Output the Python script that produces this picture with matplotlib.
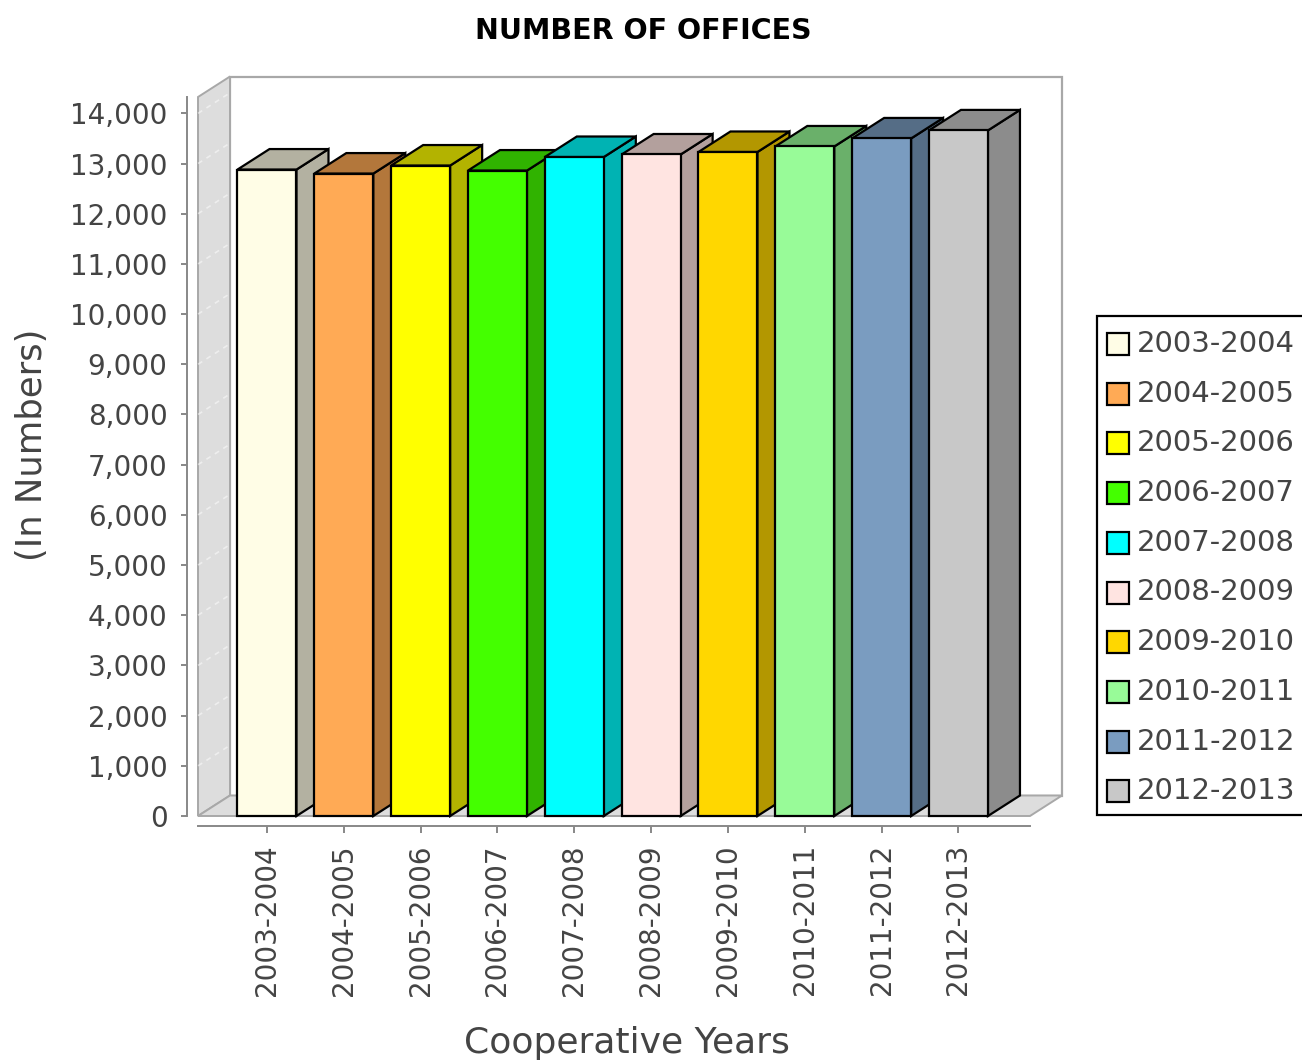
import matplotlib
matplotlib.use('Agg')
import matplotlib.pyplot as plt
from matplotlib.patches import Rectangle, Polygon

# data
years = ['2003-2004', '2004-2005', '2005-2006', '2006-2007', '2007-2008',
         '2008-2009', '2009-2010', '2010-2011', '2011-2012', '2012-2013']
offices = [12880, 12800, 12960, 12860, 13130, 13180, 13230, 13340, 13500, 13660]
colors = ['#FFFDE6', '#FFAA55', '#FFFF00', '#44FF00', '#00FFFF',
          '#FFE4E1', '#FFD700', '#98FB98', '#7A9CC0', '#C8C8C8']
yticks = list(range(0, 14001, 1000))

W, H = 1302, 1064
DPI = 100
fig = plt.figure(figsize=(W / DPI, H / DPI), dpi=DPI)

# front plot area in pixels
left_px, right_px, zero_px, top_px = 198, 1030, 816, 97
ax = fig.add_axes([left_px / W, (H - zero_px) / H,
                   (right_px - left_px) / W, (zero_px - top_px) / H])

px_per_cat = 76.83
px_per_val = 50.19 / 1000
x0 = -0.898
x1 = x0 + (right_px - left_px) / px_per_cat
ymax = (zero_px - top_px) / px_per_val
ax.set_xlim(x0, x1)
ax.set_ylim(0, ymax)

# 3d offsets in data units
ddx = 32 / px_per_cat
ddy = 20.5 / px_per_val
bar_w = 59 / px_per_cat


def darker(c, f=0.7):
    r, g, b = matplotlib.colors.to_rgb(c)
    return (r * f, g * f, b * f)


wall_edge = '#A8A8A8'
# back wall
ax.add_patch(Rectangle((x0 + ddx, ddy), x1 - x0, ymax, facecolor='white',
                       edgecolor=wall_edge, lw=1.6, clip_on=False, zorder=1))
# left wall
ax.add_patch(Polygon([(x0, 0), (x0, ymax), (x0 + ddx, ymax + ddy), (x0 + ddx, ddy)],
                     closed=True, facecolor='#DDDDDD', edgecolor=wall_edge, lw=1.4,
                     clip_on=False, zorder=1))
# floor
ax.add_patch(Polygon([(x0, 0), (x1, 0), (x1 + ddx, ddy), (x0 + ddx, ddy)],
                     closed=True, facecolor='#DDDDDD', edgecolor=wall_edge, lw=1.4,
                     clip_on=False, zorder=1))
# faint grid marks on the left wall
for t in yticks[1:]:
    ax.plot([x0, x0 + ddx], [t, t + ddy], color='white', lw=1.2, ls=(0, (3, 3)),
            alpha=0.5, clip_on=False, zorder=1.5)

# bars
for i, (v, c) in enumerate(zip(offices, colors)):
    l, r = i - bar_w / 2, i + bar_w / 2
    dc = darker(c)
    ax.add_patch(Polygon([(r, 0), (r + ddx, ddy), (r + ddx, v + ddy), (r, v)],
                         closed=True, facecolor=dc, edgecolor='black', lw=1.6,
                         clip_on=False, zorder=2))
    ax.add_patch(Polygon([(l, v), (l + ddx, v + ddy), (r + ddx, v + ddy), (r, v)],
                         closed=True, facecolor=dc, edgecolor='black', lw=1.6,
                         clip_on=False, zorder=2))
    ax.add_patch(Rectangle((l, 0), bar_w, v, facecolor=c, edgecolor='black',
                           lw=1.6, clip_on=False, zorder=2))

# axes styling
for s in ['top', 'right']:
    ax.spines[s].set_visible(False)
ax.spines['left'].set_position(('outward', 11 * 0.72))
ax.spines['bottom'].set_position(('outward', 10 * 0.72))
for s in ['left', 'bottom']:
    ax.spines[s].set_color('#888888')
    ax.spines[s].set_linewidth(1.4)
ax.set_facecolor('none')

ax.set_yticks(yticks)
ax.set_yticklabels(['{:,}'.format(t) for t in yticks])
ax.set_xticks(range(len(years)))
ax.set_xticklabels(years, rotation=90)
ax.tick_params(axis='y', length=4, width=1.4, color='#888888', pad=10,
               labelsize=20, labelcolor='#444444')
ax.tick_params(axis='x', length=5, width=1.4, color='#888888', pad=8,
               labelsize=20, labelcolor='#444444')

fig.text(643 / W, 1 - 31 / H, 'NUMBER OF OFFICES', ha='center', va='center',
         fontsize=20.5, fontweight='bold', color='black')
fig.text(627 / W, 1 - 1043 / H, 'Cooperative Years', ha='center', va='center',
         fontsize=26, color='#444444')
fig.text(32 / W, 1 - 445 / H, '(In Numbers)', ha='center', va='center',
         rotation=90, fontsize=25.5, color='#444444')

# legend
fig.patches.append(Rectangle((1097 / W, 1 - 815 / H), 300 / W, (815 - 316) / H,
                             transform=fig.transFigure, facecolor='white',
                             edgecolor='black', lw=1.6))
for k, (lab, c) in enumerate(zip(years, colors)):
    yc = 344 + k * 49.7
    fig.patches.append(Rectangle((1107 / W, 1 - (yc + 11) / H), 22 / W, 22 / H,
                                 transform=fig.transFigure, facecolor=c,
                                 edgecolor='black', lw=1.6))
    fig.text(1137 / W, 1 - yc / H, lab, ha='left', va='center',
             fontsize=21, color='#444444')

fig.savefig('out.png', dpi=DPI)
